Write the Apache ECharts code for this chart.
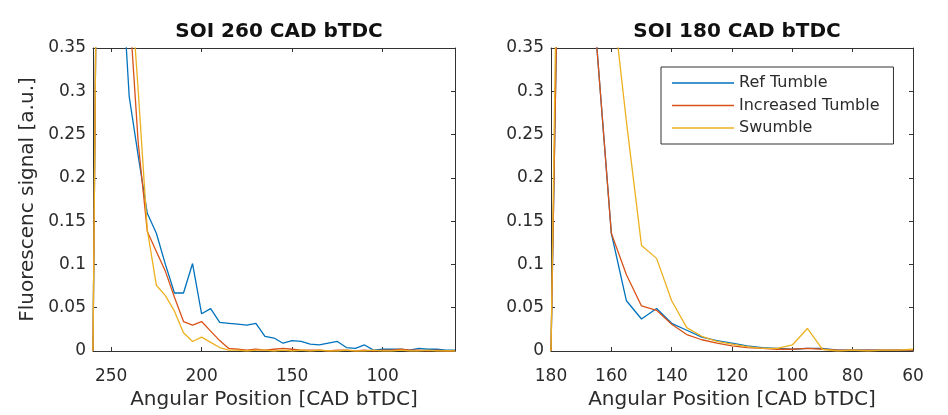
<!DOCTYPE html>
<html>
<head>
<meta charset="utf-8">
<script src="https://cdn.jsdelivr.net/npm/echarts@6/dist/echarts.min.js"></script>
<style>
html,body{margin:0;padding:0;background:#fff;}
#chart{width:948px;height:415px;}
</style>
</head>
<body>
<div id="chart"></div>
<script>
// ---- Data ----
const titles = ['SOI 260 CAD bTDC', 'SOI 180 CAD bTDC'];
const seriesNames = ['Ref Tumble', 'Increased Tumble', 'Swumble'];
const colors = ['#0072BD', '#D95319', '#EDB120'];
const xAxisName = 'Angular Position [CAD bTDC]';
const yAxisName = 'Fluorescenc signal [a.u.]';

const xTicksLeft = [100, 150, 200, 250];
const yTicks = [0, 0.05, 0.1, 0.15, 0.2, 0.25, 0.3, 0.35];

const angleLeft = [260,255,250,245,240,235,230,225,220,215,210,205,200,195,190,185,180,175,170,165,160,155,150,145,140,135,130,125,120,115,110,105,100,95,90,85,80,75,70,65,60];
const refLeft = [0,1.2,0.9,0.47,0.294,0.225,0.159,0.136,0.100,0.067,0.067,0.101,0.043,0.049,0.033,0.032,0.031,0.030,0.032,0.017,0.015,0.009,0.012,0.011,0.008,0.007,0.009,0.011,0.004,0.003,0.007,0.001,0.002,0.002,0.002,0.001,0.003,0.002,0.002,0.001,0.001];
const incLeft = [0,1.2,0.9,0.6,0.40,0.24,0.138,0.115,0.092,0.062,0.034,0.030,0.034,0.023,0.012,0.003,0.002,0.001,0.002,0.001,0.002,0.003,0.002,0.001,0.001,0.001,0.000,0.001,0.001,0.000,0.001,0.000,0.001,0.001,0.002,0.001,0.001,0.000,0.001,0.000,0.000];
const swLeft = [0,1.2,0.9,0.6,0.45,0.30,0.14,0.076,0.064,0.046,0.021,0.011,0.016,0.010,0.004,0.001,0.001,0.000,0.001,0.001,0.000,0.001,0.000,0.001,0.000,0.001,0.000,0.000,0.001,0.000,0.000,0.001,0.000,0.000,0.001,0.000,0.000,0.001,0.000,0.000,0.000];

const angleRight = [180,175,170,165,160,155,150,145,140,135,130,125,120,115,110,105,100,95,90,85,80,75,70,65,60];
const refRight = [0,1.0,0.8,0.36,0.136,0.058,0.037,0.049,0.032,0.024,0.016,0.012,0.009,0.006,0.004,0.003,0.002,0.003,0.003,0.001,0.001,0.001,0.001,0.001,0.001];
const incRight = [0,1.0,0.8,0.36,0.136,0.088,0.052,0.047,0.031,0.019,0.013,0.009,0.006,0.004,0.003,0.002,0.002,0.003,0.002,0.001,0.001,0.001,0.001,0.001,0.001];
const swRight = [0,1.2,0.9,0.6,0.42,0.265,0.122,0.107,0.058,0.027,0.017,0.011,0.008,0.005,0.003,0.003,0.007,0.026,0.002,0.000,0.001,0.000,0.001,0.001,0.002];

// ---- Chart ----
const FONT = 'DejaVu Sans';
const axisColor = '#333333';
const textColor = '#2b2b2b';

function pairs(xs, ys) { return xs.map((x, i) => [x, ys[i]]); }

function xAx(grid, min, max, opts, top) {
  const a = {
    gridIndex: grid, type: 'value', min: min, max: max, inverse: true,
    position: top ? 'top' : 'bottom',
    axisLine: { show: true, onZero: false, lineStyle: { color: axisColor, width: 1 } },
    axisTick: Object.assign({ show: true, inside: true, length: 4, lineStyle: { color: axisColor } }, opts.tick || {}),
    axisLabel: Object.assign({ show: !top, color: textColor, fontSize: 17, fontFamily: FONT, margin: 17 }, opts.label || {}),
    splitLine: { show: false }
  };
  if (opts.interval) a.interval = opts.interval;
  if (!top) {
    a.name = xAxisName; a.nameLocation = 'middle'; a.nameGap = 38;
    a.nameTextStyle = { fontSize: 20, color: textColor, fontFamily: FONT };
  }
  return a;
}
function yAx(grid, right, withName) {
  const a = {
    gridIndex: grid, type: 'value', min: 0, max: 0.35, interval: 0.05,
    position: right ? 'right' : 'left',
    axisLine: { show: true, onZero: false, lineStyle: { color: axisColor, width: 1 } },
    axisTick: { show: true, inside: true, length: 4, lineStyle: { color: axisColor } },
    axisLabel: { show: !right, color: textColor, fontSize: 17, fontFamily: FONT, margin: 7,
      formatter: v => String(+v.toFixed(2)) },
    splitLine: { show: false }
  };
  if (withName) {
    a.name = yAxisName; a.nameLocation = 'middle'; a.nameGap = 55;
    a.nameTextStyle = { fontSize: 20, color: textColor, fontFamily: FONT };
  }
  return a;
}

const leftCustom = { tick: { customValues: xTicksLeft }, label: { customValues: xTicksLeft } };

const allData = [
  [pairs(angleLeft, refLeft), pairs(angleLeft, incLeft), pairs(angleLeft, swLeft)],
  [pairs(angleRight, refRight), pairs(angleRight, incRight), pairs(angleRight, swRight)]
];

const series = [];
allData.forEach((panel, p) => {
  panel.forEach((d, i) => {
    series.push({
      name: seriesNames[i], type: 'line', data: d,
      xAxisIndex: p * 2, yAxisIndex: p * 2,
      symbol: 'none', showSymbol: false, clip: true,
      lineStyle: { color: colors[i], width: 1.3 },
      itemStyle: { color: colors[i] },
      emphasis: { disabled: true }
    });
  });
});

const option = {
  animation: false,
  backgroundColor: '#ffffff',
  textStyle: { fontFamily: FONT },
  title: [
    { text: titles[0], left: 274, top: 17, textAlign: 'center',
      textStyle: { fontSize: 20, fontWeight: 'bold', color: '#111', fontFamily: FONT } },
    { text: titles[1], left: 732, top: 17, textAlign: 'center',
      textStyle: { fontSize: 20, fontWeight: 'bold', color: '#111', fontFamily: FONT } }
  ],
  grid: [
    { left: 93, top: 48, width: 362, height: 303, show: false },
    { left: 551, top: 48, width: 362, height: 303, show: false }
  ],
  xAxis: [
    xAx(0, 60, 260, leftCustom, false),
    xAx(0, 60, 260, leftCustom, true),
    xAx(1, 60, 180, { interval: 20 }, false),
    xAx(1, 60, 180, { interval: 20 }, true)
  ],
  yAxis: [
    yAx(0, false, true), yAx(0, true, false),
    yAx(1, false, false), yAx(1, true, false)
  ],
  legend: {
    data: seriesNames, orient: 'vertical', left: 661, top: 67,
    padding: [8, 14, 8, 11], itemWidth: 62, itemHeight: 1.4, itemGap: 6.5,
    icon: 'rect',
    backgroundColor: '#ffffff', borderColor: '#333', borderWidth: 1, borderRadius: 0,
    textStyle: { fontSize: 16, lineHeight: 16, color: textColor, fontFamily: FONT },
    selectedMode: false
  },
  series: series
};

const chart = echarts.init(document.getElementById('chart'), null, { renderer: 'canvas' });
chart.setOption(option);
</script>
</body>
</html>
